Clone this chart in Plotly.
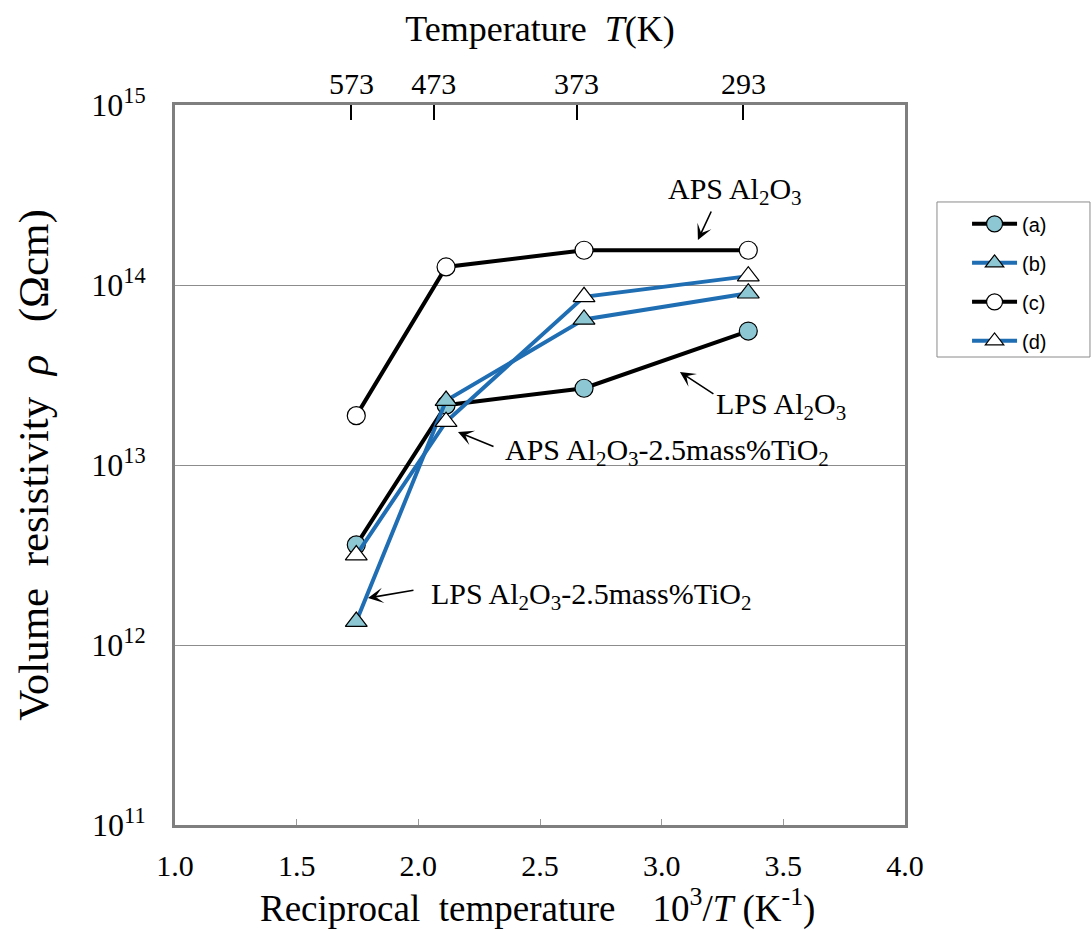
import plotly.graph_objects as go

# Data
recip_T = [1.745, 2.114, 2.681, 3.356]          # 10^3/T (K^-1)
rho_a = [3.6e12, 2.15e13, 2.67e13, 5.55e13]    # LPS Al2O3
rho_b = [1.35e12, 2.28e13, 6.44e13, 9.0e13]    # LPS Al2O3-2.5mass%TiO2
rho_c = [1.88e13, 1.26e14, 1.56e14, 1.56e14]   # APS Al2O3
rho_d = [3.16e12, 1.74e13, 8.6e13, 1.12e14]    # APS Al2O3-2.5mass%TiO2

top_tick_pos = [1.725, 2.063, 2.650, 3.336]
top_tick_text = ["573", "473", "373", "293"]
x_tick_vals = [1.0, 1.5, 2.0, 2.5, 3.0, 3.5, 4.0]
x_tick_text = ["1.0", "1.5", "2.0", "2.5", "3.0", "3.5", "4.0"]
y_tick_vals = [1e11, 1e12, 1e13, 1e14, 1e15]
y_tick_text = ["10<sup>11</sup>", "10<sup>12</sup>", "10<sup>13</sup>", "10<sup>14</sup>", "10<sup>15</sup>"]

TEAL = "#8cc7d3"
BLUE = "#1f6db3"
SERIF = "Liberation Serif"

fig = go.Figure()

def add(name, y, line_color, fill, symbol, size):
    fig.add_trace(go.Scatter(
        x=recip_T, y=y, name=name, mode="lines+markers", legendgroup=name,
        line=dict(color=line_color, width=4),
        marker=dict(symbol=symbol, size=size, color=fill,
                    line=dict(color="black", width=1.2)),
    ))

add("(a)", rho_a, "black", TEAL, "circle", 18)
add("(b)", rho_b, BLUE, TEAL, "triangle-up", 19)
add("(c)", rho_c, "black", "white", "circle", 18)
add("(d)", rho_d, BLUE, "white", "triangle-up", 19)

fig.add_trace(go.Scatter(x=[None], y=[None], xaxis="x2", showlegend=False, hoverinfo="skip"))

ann_font = dict(family=SERIF, size=30, color="black")
labels = [
    (3.30, 14.52, "APS Al<sub>2</sub>O<sub>3</sub>"),
    (3.49, 13.33, "LPS Al<sub>2</sub>O<sub>3</sub>"),
    (3.02, 13.07, "APS Al<sub>2</sub>O<sub>3</sub>-2.5mass%TiO<sub>2</sub>"),
    (2.71, 12.27, "LPS Al<sub>2</sub>O<sub>3</sub>-2.5mass%TiO<sub>2</sub>"),
]
for (xt, yt, txt) in labels:
    fig.add_annotation(x=xt, y=yt, xref="x", yref="y", text=txt, showarrow=False, font=ann_font)

# arrows (head position, tail offset in px)
arrows = [
    (3.149, 14.25, 14, -30),   # APS Al2O3
    (3.075, 13.517, 35, 23),   # LPS Al2O3
    (2.163, 13.183, 37, 15),   # APS TiO2
    (1.793, 12.261, 47, -8),   # LPS TiO2
]
for (xh, yh, ax, ay) in arrows:
    fig.add_annotation(x=xh, y=yh, xref="x", yref="y", ax=ax, ay=ay, text="",
                       showarrow=True, arrowhead=3, arrowsize=1.6, arrowwidth=1.6,
                       arrowcolor="black", standoff=0)

# bottom axis title
fig.add_annotation(x=0.496, y=-0.113, xref="paper", yref="paper", showarrow=False,
                   xanchor="center", yanchor="middle",
                   text="Reciprocal  temperature    10<sup>3</sup>/<i>T</i> (K<sup>-1</sup>)",
                   font=dict(family=SERIF, size=37, color="black"))

# legend frame
fig.add_shape(type="rect", xref="paper", yref="paper",
              x0=1.0438, x1=1.2534, y0=0.650, y1=0.8653,
              line=dict(color="#8a8a8a", width=1), fillcolor="white", layer="below")

fig.update_layout(
    width=1091, height=931,
    margin=dict(l=175, r=186, t=105, b=106),
    paper_bgcolor="white", plot_bgcolor="white",
    showlegend=True,
    legend=dict(x=1.085, y=0.862, xanchor="left", yanchor="top",
                bgcolor="rgba(0,0,0,0)", borderwidth=0,
                font=dict(family="Liberation Sans", size=20, color="black"),
                tracegroupgap=10, itemwidth=45),
    xaxis=dict(range=[1.0, 4.0], tickvals=x_tick_vals, ticktext=x_tick_text,
               ticks="inside", ticklen=6, tickcolor="#999999", tickwidth=1,
               showgrid=False, zeroline=False,
               showline=True, linecolor="#7f7f7f", linewidth=3, mirror=True,
               tickfont=dict(family=SERIF, size=30, color="black"),
               ticklabelstandoff=12),
    xaxis2=dict(range=[1.0, 4.0], overlaying="x", side="top", anchor="y",
                tickvals=top_tick_pos, ticktext=top_tick_text,
                ticks="inside", ticklen=15, tickcolor="black", tickwidth=2,
                showgrid=False, zeroline=False, showline=False,
                tickfont=dict(family=SERIF, size=30, color="black"),
                ticklabelstandoff=4,
                title=dict(text="Temperature&nbsp;&nbsp;<i>T</i>(K)",
                           font=dict(family=SERIF, size=36, color="black"), standoff=14)),
    yaxis=dict(type="log", range=[11, 15], tickvals=y_tick_vals, ticktext=y_tick_text,
               ticks="inside", ticklen=5, tickcolor="#999999", tickwidth=1,
               showgrid=True, gridcolor="#8c8c8c", gridwidth=1,
               zeroline=False,
               showline=True, linecolor="#7f7f7f", linewidth=3, mirror=True,
               tickfont=dict(family=SERIF, size=32, color="black"),
               ticklabelstandoff=20,
               title=dict(text="Volume&nbsp;&nbsp;resistivity&nbsp;&nbsp;<i>ρ</i>&nbsp;&nbsp;&nbsp;(Ωcm)",
                          font=dict(family=SERIF, size=43, color="black"), standoff=30)),
)

fig.write_html("out.html")
